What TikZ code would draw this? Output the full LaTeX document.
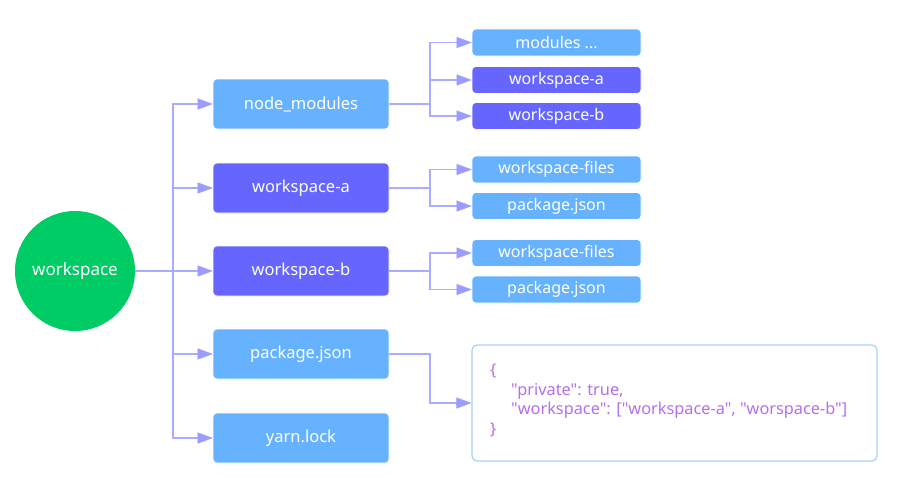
\documentclass[tikz,border=0pt]{standalone}
\usepackage{fontspec}
\setmainfont{Noto Sans}
\newfontfamily\jfont{Noto Sans}[Ligatures=TeXOff]
\usetikzlibrary{arrows.meta}
\definecolor{lblue}{HTML}{66B2FF}
\definecolor{purp}{HTML}{6666FF}
\definecolor{grn}{HTML}{00CC66}
\definecolor{conn}{HTML}{ABABFF}
\definecolor{tipc}{HTML}{9C9CFF}
\definecolor{jtext}{HTML}{B46EF0}
\definecolor{jborder}{HTML}{A8D0FF}
\tikzset{
  lone/.style={rounded corners=4pt, minimum width=176pt, minimum height=50pt, inner sep=0pt, text=white, font=\fontsize{16.5}{19}\selectfont, draw=white, line width=0.6pt},
  ltwo/.style={rounded corners=4pt, minimum width=169pt, minimum height=27pt, inner sep=0pt, text=white, font=\fontsize{16}{18}\selectfont, draw=white, line width=0.6pt},
  cline/.style={draw=conn, line width=1.6pt, -{Triangle[length=15pt,width=11pt,color=tipc,fill=tipc,line width=0.4pt]}},
  pline/.style={draw=conn, line width=1.6pt},
}
\begin{document}
\begin{tikzpicture}[x=1pt,y=-1pt]
\useasboundingbox (0,0) rectangle (921,493);
\node[circle, fill=grn, minimum size=120pt, inner sep=0pt, text=white, font=\fontsize{17}{20}\selectfont] (root) at (75,271) {workspace};
% level 1
\node[lone, fill=lblue] (nm) at (301,104) {node\_modules};
\node[lone, fill=purp] (wa) at (301,188) {workspace-a};
\node[lone, fill=purp] (wb) at (301,271) {workspace-b};
\node[lone, fill=lblue] (pj) at (301,354) {package.json};
\node[lone, fill=lblue] (yl) at (301,438) {yarn.lock};
% level 2
\node[ltwo, fill=lblue] (m1) at (556.5,42.5) {modules ...};
\node[ltwo, fill=purp] (m2) at (556.5,80) {workspace-a};
\node[ltwo, fill=purp] (m3) at (556.5,116) {workspace-b};
\node[ltwo, fill=lblue] (af) at (556.5,169.5) {workspace-files};
\node[ltwo, fill=lblue] (ap) at (556.5,206) {package.json};
\node[ltwo, fill=lblue] (bf) at (556.5,253) {workspace-files};
\node[ltwo, fill=lblue] (bp) at (556.5,289.5) {package.json};
% json
\node[draw=jborder, line width=1.2pt, rounded corners=5pt, minimum width=405pt, minimum height=116pt, inner sep=0pt] (json) at (674.5,403) {};
\node[anchor=north west, text=jtext, font=\jfont\fontsize{16.3}{19.5}\selectfont, align=left, inner sep=0pt] (jt) at (490,364) {\{\\\hspace*{21pt}"private": true,\\\hspace*{21pt}"workspace": ["workspace-a", "worspace-b"]\\\}};
% coordinates
\coordinate (t) at (173,271);
\coordinate (bn) at (430,104);
\coordinate (ba) at (430,188);
\coordinate (bb) at (430,271);
\coordinate (bj) at (430,354);
% connectors level 1
\draw[pline] (root.east) -- (t);
\foreach \n in {nm,wa,wb,pj,yl} {\draw[cline] (t) |- (\n.west);}
% level 2
\foreach \n in {m1,m2,m3} {\draw[cline] (nm.east) -- (bn) |- (\n.west);}
\foreach \n in {af,ap} {\draw[cline] (wa.east) -- (ba) |- (\n.west);}
\foreach \n in {bf,bp} {\draw[cline] (wb.east) -- (bb) |- (\n.west);}
\draw[cline] (pj.east) -- (bj) |- (json.west);
\end{tikzpicture}
\end{document}
